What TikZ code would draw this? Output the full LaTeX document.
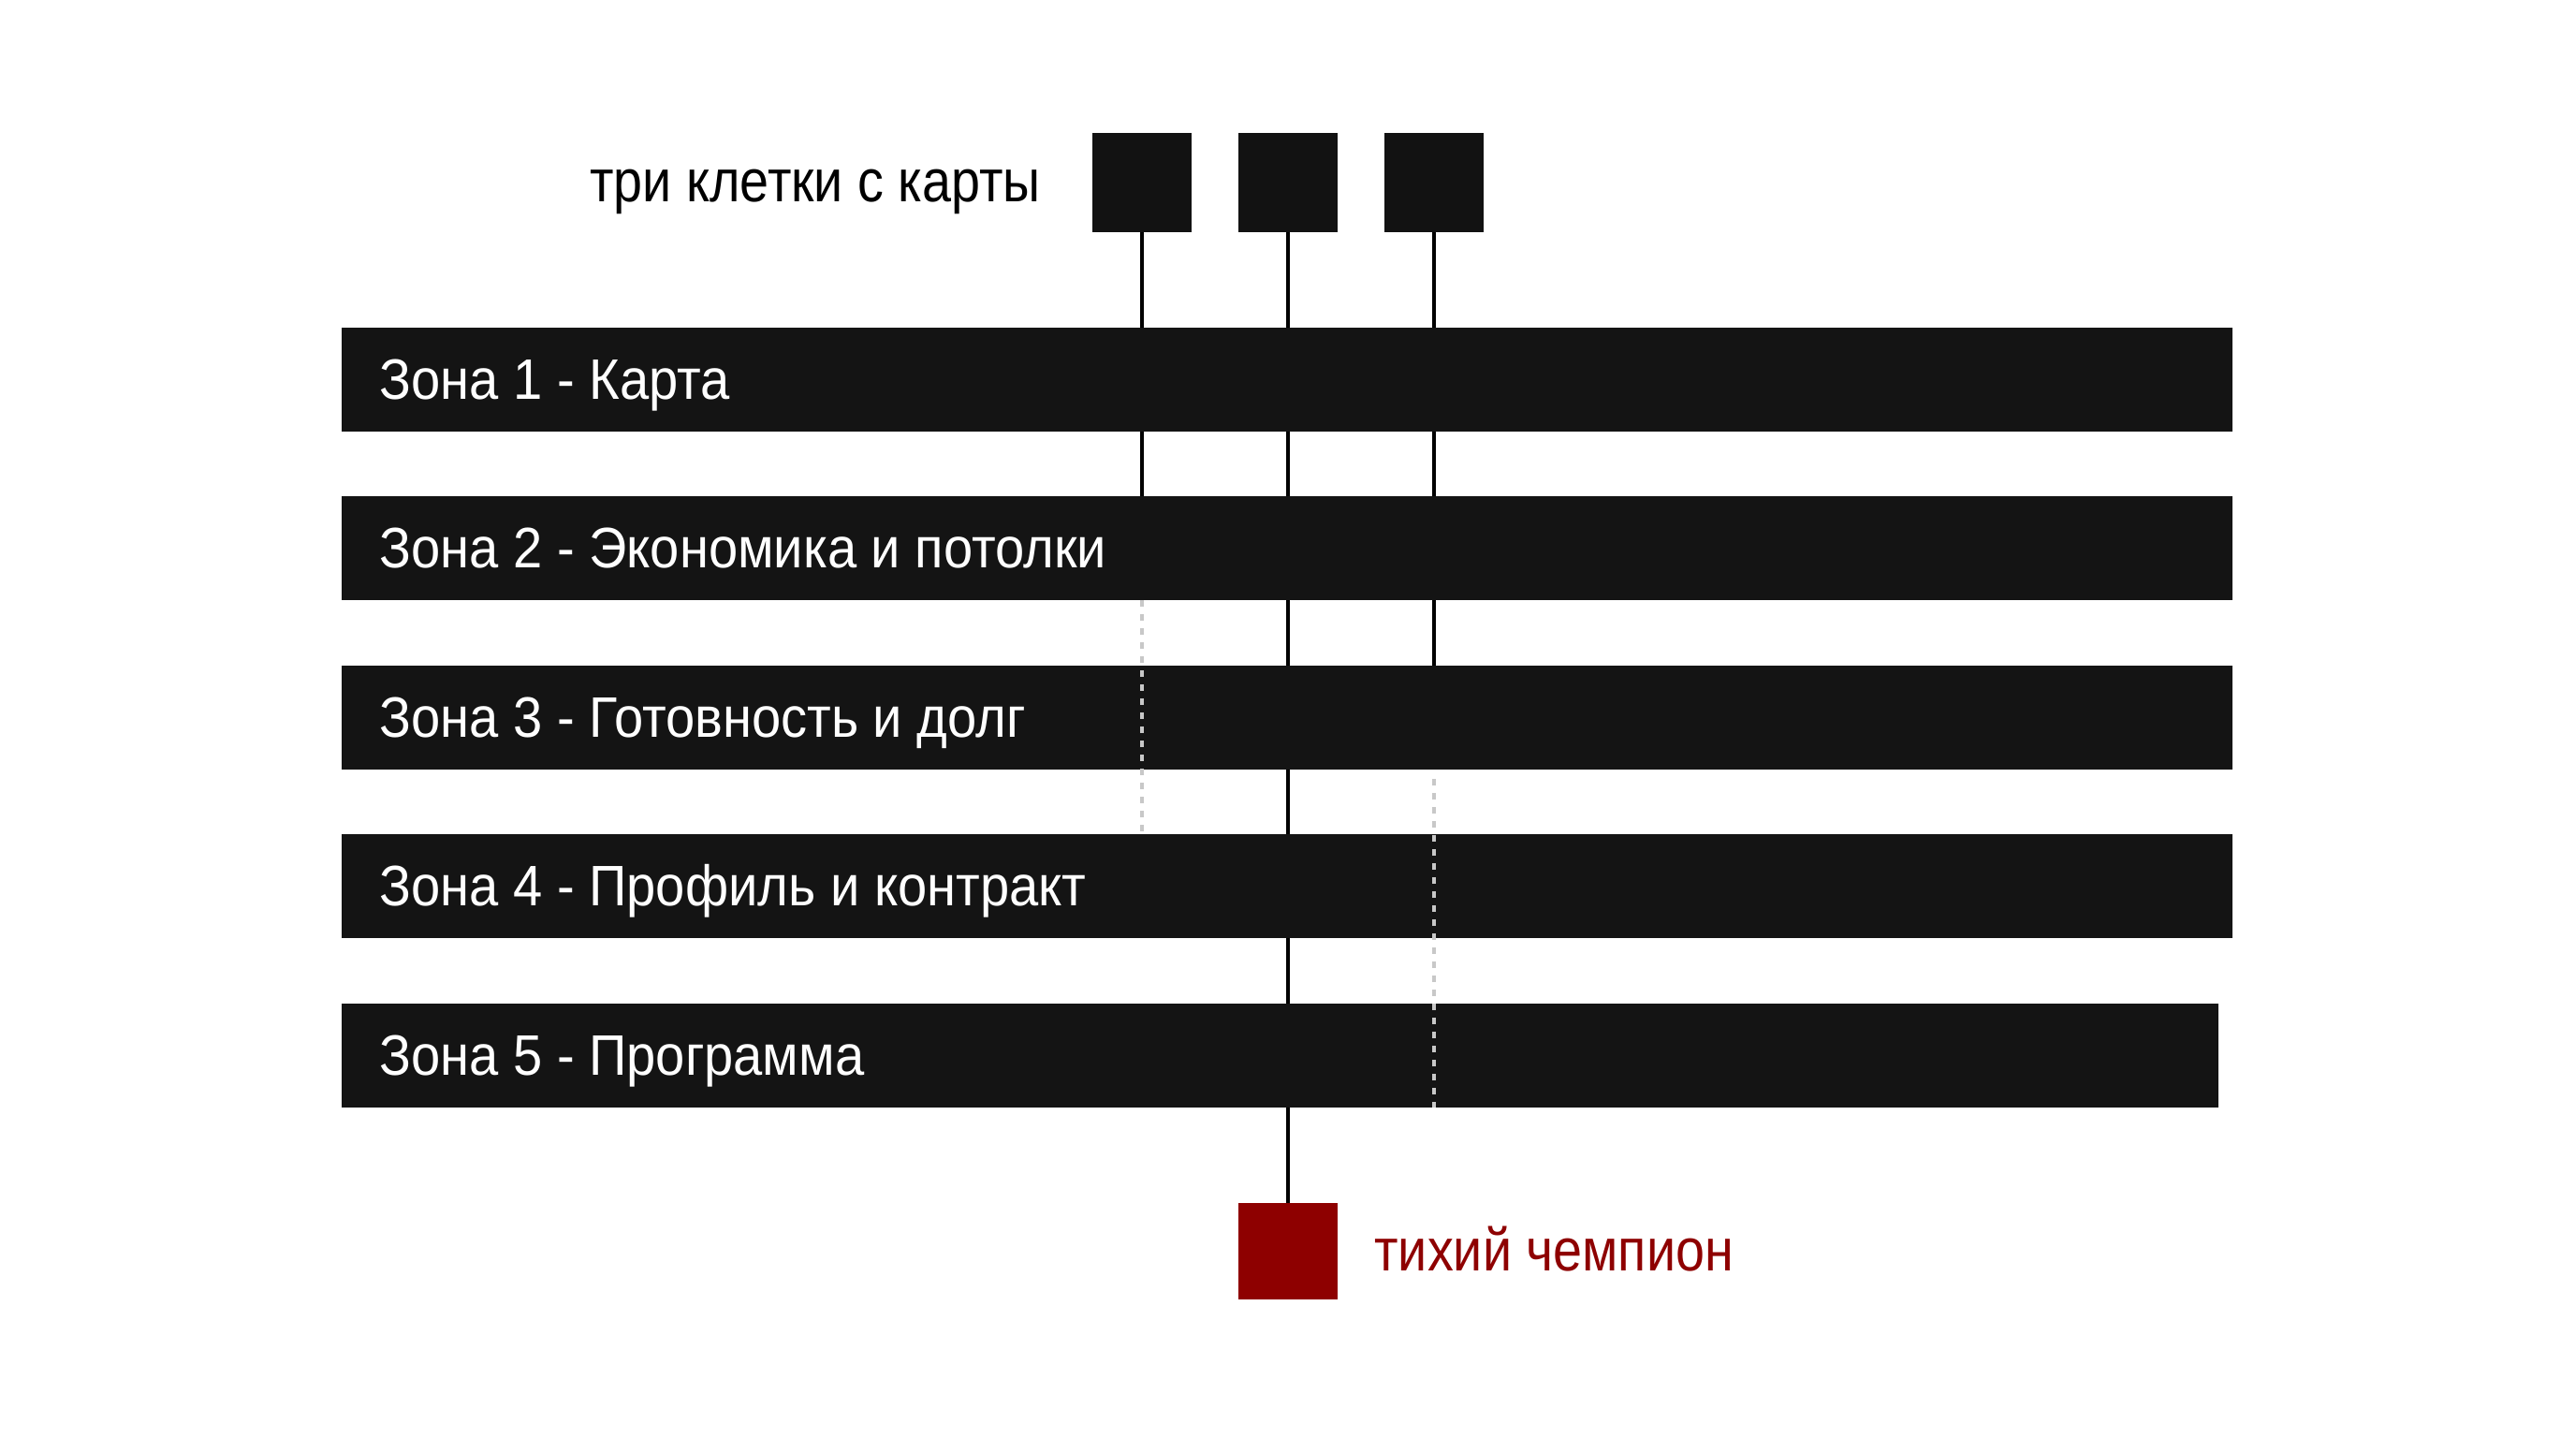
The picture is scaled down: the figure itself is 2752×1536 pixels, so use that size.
\documentclass[tikz,border=0pt]{standalone}
\usepackage{fontspec}
\setmainfont{Liberation Sans}
\newfontfamily\barfont[FakeStretch=0.92]{Liberation Sans}
\newfontfamily\labelfont[FakeStretch=0.87]{Liberation Sans}
\usetikzlibrary{backgrounds}
\definecolor{barblack}{HTML}{141414}
\definecolor{sqblack}{HTML}{121212}
\definecolor{champred}{HTML}{8E0000}
\definecolor{dotgray}{HTML}{C8C8C8}
\tikzset{
  cell/.style={draw=none, fill=sqblack, minimum width=53pt, minimum height=52.5pt, inner sep=0pt},
  redcell/.style={draw=none, fill=champred, minimum width=53pt, minimum height=51.5pt, inner sep=0pt},
  zone/.style={draw=none, fill=barblack, minimum height=55.5pt, inner sep=0pt},
  zonetext/.style={text=white, font=\barfont\fontsize{30.5pt}{36pt}\selectfont, anchor=base west, inner sep=0pt},
  conn/.style={draw=black, line width=2pt},
  dotconn/.style={draw=dotgray, line width=2pt, dash pattern=on 3.5pt off 4pt},
  label/.style={font=\labelfont\fontsize{32pt}{38pt}\selectfont, inner sep=0pt}
}
\begin{document}
\begin{tikzpicture}[x=0.5pt, y=-0.5pt]
\begin{scope}[on background layer]
\fill[white] (0,0) rectangle (2752,1536);
\end{scope}
\useasboundingbox (0,0) rectangle (2752,1536);
% top cells
\node[cell] (s1) at (1220,195) {};
\node[cell] (s2) at (1376,195) {};
\node[cell] (s3) at (1532,195) {};
\node[label, anchor=base east] (top) at (1112,215) {три клетки с карты};
% zones
\node[zone, minimum width=1010pt] (z1) at (1375,405) {};
\node[zone, minimum width=1010pt] (z2) at (1375,585.5) {};
\node[zone, minimum width=1010pt] (z3) at (1375,766.5) {};
\node[zone, minimum width=1010pt] (z4) at (1375,946.5) {};
\node[zone, minimum width=1002.5pt] (z5) at (1367.5,1127.5) {};
\node[zonetext] (t1) at (405,426) {Зона 1 - Карта};
\node[zonetext] (t2) at (405,606.5) {Зона 2 - Экономика и потолки};
\node[zonetext] (t3) at (405,787.5) {Зона 3 - Готовность и долг};
\node[zonetext] (t4) at (405,967.5) {Зона 4 - Профиль и контракт};
\node[zonetext] (t5) at (405,1148.5) {Зона 5 - Программа};
% result
\node[redcell] (r) at (1376,1336.5) {};
\node[label, text=champred, anchor=base west] (champ) at (1468,1357) {тихий чемпион};
\coordinate (d3) at (1532,832);
% solid connectors behind the zones
\begin{scope}[on background layer]
\draw[conn] (s1.south) -- (s1.south |- z2.north);
\draw[conn] (s2.south) -- (r.north);
\draw[conn] (s3.south) -- (s3.south |- z3.north);
\end{scope}
% dotted connectors over the zones
\draw[dotconn] (s1.south |- z2.south) -- (s1.south |- z4.north);
\draw[dotconn] (d3) -- (d3 |- z5.south);
\end{tikzpicture}
\end{document}
